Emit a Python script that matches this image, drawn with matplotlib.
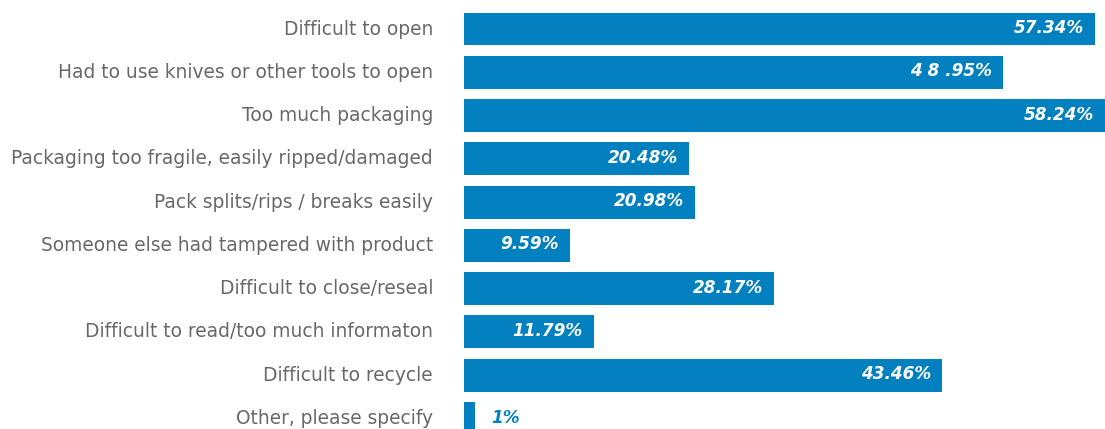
import matplotlib
matplotlib.use("Agg")
import matplotlib.pyplot as plt
import matplotlib.transforms as mtransforms

categories = [
    "Difficult to open",
    "Had to use knives or other tools to open",
    "Too much packaging",
    "Packaging too fragile, easily ripped/damaged",
    "Pack splits/rips / breaks easily",
    "Someone else had tampered with product",
    "Difficult to close/reseal",
    "Difficult to read/too much informaton",
    "Difficult to recycle",
    "Other, please specify",
]
values = [57.34, 48.95, 58.24, 20.48, 20.98, 9.59, 28.17, 11.79, 43.46, 1]
value_labels = ["57.34%", "4 8 .95%", "58.24%", "20.48%", "20.98%",
                "9.59%", "28.17%", "11.79%", "43.46%", "1%"]

blue = "#0380BF"

fig = plt.figure(figsize=(11.05, 4.29), dpi=100)
W, H = 1105, 429
top_px, bot_px = 7.4, 440.0
ax = fig.add_axes([464 / W, (H - bot_px) / H, 641 / W, (bot_px - top_px) / H])

y = list(range(len(categories)))
ax.barh(y, values, height=0.76, color=blue)
ax.set_ylim(len(categories) - 0.5, -0.5)
ax.set_xlim(0, 58.24)

ax.set_yticks(y)
ax.set_yticklabels(categories, fontsize=13.4, color="#686868", family="DejaVu Sans")
ax.tick_params(axis="y", length=0, pad=22.3)
# nudge the category labels up a little
shift = mtransforms.ScaledTranslation(0, 2 / 100, fig.dpi_scale_trans)
for t in ax.get_yticklabels():
    t.set_transform(t.get_transform() + shift)
ax.set_xticks([])
for s in ax.spines.values():
    s.set_visible(False)

for i, (v, lab) in enumerate(zip(values, value_labels)):
    if v > 5:
        ax.annotate(lab, (v, i), xytext=(-11, 1), textcoords="offset pixels",
                    ha="right", va="center", color="white", fontsize=12.2,
                    fontweight="bold", fontstyle="italic", family="DejaVu Sans")
    else:
        ax.annotate(lab, (v, i), xytext=(16, 0), textcoords="offset pixels",
                    ha="left", va="center", color=blue, fontsize=12.2,
                    fontweight="bold", fontstyle="italic", family="DejaVu Sans")

fig.savefig("out.png", dpi=100)
